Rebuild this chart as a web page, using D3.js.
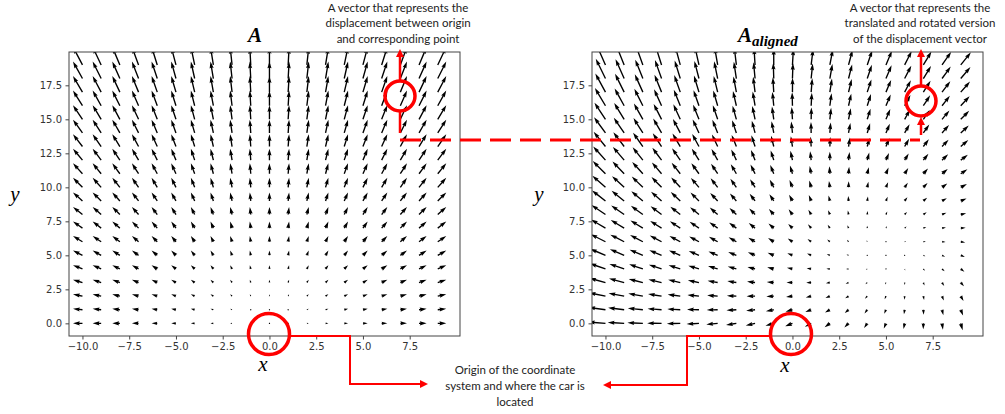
<!DOCTYPE html>
<html>
<head>
<meta charset="utf-8">
<script src="https://cdn.jsdelivr.net/npm/d3@7"></script>
<style>
  body { margin: 0; background: #fff; }
  .tick text { font-family: "DejaVu Sans", sans-serif; font-size: 10px; fill: #333; }
  .note { font-family: Lato, "Open Sans", sans-serif; font-size: 11.5px; fill: #222; }
  .math { font-family: "Liberation Serif", "DejaVu Serif", serif; font-style: italic; }
</style>
</head>
<body>
<svg id="fig" width="1005" height="414"></svg>
<script>
// ---- data -------------------------------------------------------------
// sample grid of the displacement field
const xs = d3.range(-10, 10);          // -10 … 9
const ys = d3.range(0, 20);            // 0 … 19
const xTicks = [-10, -7.5, -5, -2.5, 0, 2.5, 5, 7.5];
const yTicks = [0, 2.5, 5, 7.5, 10, 12.5, 15, 17.5];
// origin of the coordinate system (car position) for field A
const origin = [0, 0];
// pose used to express the same displacements in the aligned frame
const alignedOffset = [5, 5];
const alignedRotationDeg = -23;

// displacement between origin and every grid point
const fieldA = [];
for (const y of ys) for (const x of xs) fieldA.push({x, y, u: x - origin[0], v: y - origin[1]});

// translated and rotated version of each displacement vector
const th = alignedRotationDeg * Math.PI / 180;
const fieldAligned = fieldA.map(d => {
  const dx = d.x - alignedOffset[0], dy = d.y - alignedOffset[1];
  return {x: d.x, y: d.y,
          u: dx * Math.cos(th) - dy * Math.sin(th),
          v: dx * Math.sin(th) + dy * Math.cos(th)};
});

// ---- layout -----------------------------------------------------------
const svg = d3.select("#fig");
const W = 391, TOP = 52, BOTTOM = 336;
const xDomain = [-10.72, 10.19];
const yDomain = [-0.93, 19.95];

// quiver-style arrow polygon (lengths in shaft-width units)
function arrowPoints(len) {
  const hl = 5, hal = 4.5, hw = 3, minsh = hl, minlen = 1;
  if (len < minlen) {
    return d3.range(8).map(k => [Math.cos(k * Math.PI / 3) * minlen * 0.5,
                                 Math.sin(k * Math.PI / 3) * minlen * 0.5]);
  }
  let X, Y = [0.5, 0.5, hw / 2, 0, -hw / 2, -0.5, -0.5, 0.5];
  if (len < minsh) {
    const s = len / minsh;
    X = [0, minsh - hal, minsh - hl, minsh, minsh - hl, minsh - hal, 0, 0].map(v => v * s);
    Y = Y.map(v => v * s);
  } else {
    X = [0, len - hal, len - hl, len, len - hl, len - hal, 0, 0];
  }
  return X.map((v, i) => [v, Y[i]]);
}

function panel(x0, field, id) {
  const x = d3.scaleLinear().domain(xDomain).range([x0, x0 + W]);
  const y = d3.scaleLinear().domain(yDomain).range([BOTTOM, TOP]);
  const g = svg.append("g");

  svg.append("clipPath").attr("id", id)
    .append("rect").attr("x", x0).attr("y", TOP).attr("width", W).attr("height", BOTTOM - TOP);

  // automatic arrow scaling
  const mags = field.map(d => Math.hypot(d.u, d.v));
  const amean = d3.mean(mags);
  const shaft = 0.07 * W / 20;                 // shaft width in px
  const pxPerUnit = W / (36 * amean);          // arrow length per vector unit

  const line = d3.line();
  g.append("g").attr("clip-path", `url(#${id})`)
    .selectAll("path").data(field).join("path")
    .attr("d", (d, i) => line(arrowPoints(mags[i] * pxPerUnit / shaft)) + "Z")
    .attr("transform", d => `translate(${x(d.x)},${y(d.y)}) rotate(${-Math.atan2(d.v, d.u) * 180 / Math.PI}) scale(${shaft})`)
    .attr("fill", "#000");

  // axes
  const fmt = d3.format(".1f");
  g.append("g").attr("transform", `translate(0,${BOTTOM})`)
    .call(d3.axisBottom(x).tickValues(xTicks).tickFormat(fmt).tickSize(3.5).tickPadding(3.5))
    .call(s => s.select(".domain").remove());
  g.append("g").attr("transform", `translate(${x0},0)`)
    .call(d3.axisLeft(y).tickValues(yTicks).tickFormat(fmt).tickSize(3.5).tickPadding(3.5))
    .call(s => s.select(".domain").remove());
  g.selectAll(".tick line").attr("stroke", "#444");
  g.append("rect").attr("x", x0).attr("y", TOP).attr("width", W).attr("height", BOTTOM - TOP)
    .attr("fill", "none").attr("stroke", "#444").attr("stroke-width", 1);
  return {x, y};
}

panel(69, fieldA, "clipA");
panel(592, fieldAligned, "clipB");

// ---- titles and axis names ---------------------------------------------
svg.append("text").attr("class", "math").attr("x", 255).attr("y", 42)
  .attr("text-anchor", "middle").attr("font-size", 21).attr("font-weight", "bold").text("A");
const t2 = svg.append("text").attr("class", "math").attr("x", 738).attr("y", 42)
  .attr("font-size", 21).attr("font-weight", "bold");
t2.append("tspan").text("A");
t2.append("tspan").attr("font-size", 15).attr("dy", 4).text("aligned");

[[15, 201, "y"], [539, 201, "y"], [263, 371, "x"], [785, 372, "x"]].forEach(([px, py, s]) =>
  svg.append("text").attr("class", "math").attr("x", px).attr("y", py)
    .attr("text-anchor", "middle").attr("font-size", 21).text(s));

// ---- notes ---------------------------------------------------------------
function note(cx, baselines, lines) {
  lines.forEach((s, i) => svg.append("text").attr("class", "note")
    .attr("x", cx).attr("y", baselines[i]).attr("text-anchor", "middle").text(s));
}
note(398, [11.5, 27, 42.5], ["A vector that represents the", "displacement between origin", "and corresponding point"]);
note(920, [11.5, 27, 42.5], ["A vector that represents the", "translated and rotated version", "of the displacement vector"]);
note(515, [374, 389.7, 405.5], ["Origin of the coordinate", "system and where the car is", "located"]);

// ---- red callouts --------------------------------------------------------
const red = "#f00";
const ann = svg.append("g").attr("fill", "none").attr("stroke", red);

function head(tx, ty, dir) {   // filled triangle, tip at (tx,ty)
  const L = 8, H = 4;
  const pts = dir === "up" ? [[tx, ty], [tx - H, ty + L], [tx + H, ty + L]]
            : dir === "right" ? [[tx, ty], [tx - L, ty - H], [tx - L, ty + H]]
            : [[tx, ty], [tx + L, ty - H], [tx + L, ty + H]];
  svg.append("path").attr("d", d3.line()(pts) + "Z").attr("fill", red);
}

// circled vectors near the top
ann.append("circle").attr("cx", 400).attr("cy", 96).attr("r", 15).attr("stroke-width", 3.5);
ann.append("circle").attr("cx", 921).attr("cy", 101).attr("r", 15).attr("stroke-width", 3.5);
ann.append("line").attr("x1", 400).attr("y1", 81).attr("x2", 400).attr("y2", 56).attr("stroke-width", 2.5);
head(400, 49, "up");
ann.append("line").attr("x1", 400).attr("y1", 111).attr("x2", 400).attr("y2", 133).attr("stroke-width", 2.5);
ann.append("line").attr("x1", 921).attr("y1", 86).attr("x2", 921).attr("y2", 56).attr("stroke-width", 2.5);
head(921, 49, "up");
ann.append("line").attr("x1", 921).attr("y1", 135).attr("x2", 921).attr("y2", 124).attr("stroke-width", 2.5);
head(921, 117, "up");
ann.append("line").attr("x1", 400).attr("y1", 140).attr("x2", 920).attr("y2", 140)
  .attr("stroke-width", 3).attr("stroke-dasharray", "21 9");

// circled origins and leaders to the note
ann.append("circle").attr("cx", 269).attr("cy", 334).attr("r", 20.5).attr("stroke-width", 3.5);
ann.append("circle").attr("cx", 791).attr("cy", 334).attr("r", 20.5).attr("stroke-width", 3.5);
ann.append("path").attr("d", "M290,336H350V384H420").attr("stroke-width", 2);
head(428, 384, "right");
ann.append("path").attr("d", "M770,336H687V385H611").attr("stroke-width", 2);
head(603, 385, "left");
</script>
</body>
</html>
